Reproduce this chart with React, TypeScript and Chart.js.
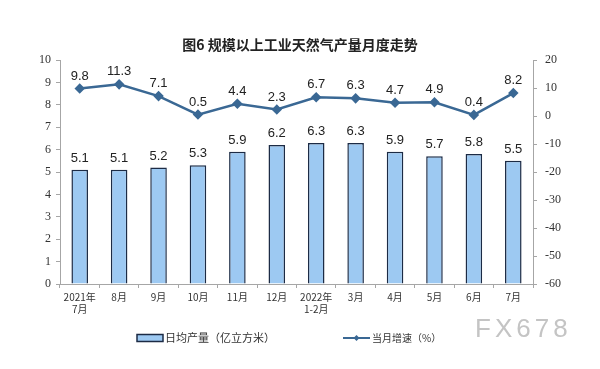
import React, { useEffect, useRef } from "react";
import { Chart, registerables } from "chart.js";

Chart.register(...registerables);

const TITLE = "图6 规模以上工业天然气产量月度走势";
const categories: (string | string[])[] = [
  ["2021年", "7月"], "8月", "9月", "10月", "11月", "12月",
  ["2022年", "1-2月"], "3月", "4月", "5月", "6月", "7月",
];
const dailyOutput = [5.1, 5.1, 5.2, 5.3, 5.9, 6.2, 6.3, 6.3, 5.9, 5.7, 5.8, 5.5];
const monthlyGrowth = [9.8, 11.3, 7.1, 0.5, 4.4, 2.3, 6.7, 6.3, 4.7, 4.9, 0.4, 8.2];
const barLegend = "日均产量（亿立方米）";
const lineLegend = "当月增速（%）";
const watermark = "FX678";

const BAR_FILL = "#9dc9f2";
const BAR_BORDER = "#1c2b45";
const LINE_COLOR = "#3a6894";
const AXIS_COLOR = "#a6a6a6";
const CJK = "'Noto Sans CJK SC', sans-serif";

const valueLabels = {
  id: "valueLabels",
  afterDatasetsDraw(chart: any) {
    const ctx = chart.ctx;
    ctx.save();
    ctx.fillStyle = "#222";
    ctx.font = "13px 'Liberation Sans', Arial, sans-serif";
    ctx.textAlign = "center";
    ctx.textBaseline = "bottom";
    const m0 = chart.getDatasetMeta(0);
    m0.data.forEach((el: any, i: number) => {
      ctx.fillText(dailyOutput[i].toFixed(1), el.x, el.y - 5);
    });
    const m1 = chart.getDatasetMeta(1);
    m1.data.forEach((el: any, i: number) => {
      ctx.fillText(monthlyGrowth[i].toFixed(1), el.x, el.y - 6);
    });
    ctx.restore();
  },
};

const legendAndMark = {
  id: "legendAndMark",
  afterDraw(chart: any) {
    const ctx = chart.ctx;
    ctx.save();
    const y = 338;
    // bar legend
    ctx.fillStyle = BAR_FILL;
    ctx.strokeStyle = BAR_BORDER;
    ctx.lineWidth = 1.5;
    ctx.fillRect(137, y - 3.5, 26, 7);
    ctx.strokeRect(137, y - 3.5, 26, 7);
    ctx.fillStyle = "#333";
    ctx.font = "11px " + CJK;
    ctx.textAlign = "left";
    ctx.textBaseline = "middle";
    ctx.fillText(barLegend, 165, y);
    // line legend
    ctx.strokeStyle = LINE_COLOR;
    ctx.lineWidth = 2;
    ctx.beginPath();
    ctx.moveTo(343, y);
    ctx.lineTo(370, y);
    ctx.stroke();
    ctx.fillStyle = LINE_COLOR;
    ctx.beginPath();
    ctx.moveTo(356.5, y - 3);
    ctx.lineTo(359.5, y);
    ctx.lineTo(356.5, y + 3);
    ctx.lineTo(353.5, y);
    ctx.closePath();
    ctx.fill();
    ctx.fillStyle = "#333";
    ctx.font = "10px " + CJK;
    ctx.fillText(lineLegend, 372, y);
    // watermark
    ctx.fillStyle = "#c4c4c4";
    ctx.font = "26px 'Liberation Sans', Arial, sans-serif";
    (ctx as any).letterSpacing = "4px";
    ctx.fillText(watermark, 475, 330);
    ctx.restore();
  },
};

export default function App() {
  const ref = useRef<HTMLCanvasElement | null>(null);
  useEffect(() => {
    if (!ref.current) return;
    const chart = new Chart(ref.current, {
      type: "bar",
      data: {
        labels: categories as any,
        datasets: [
          {
            type: "bar",
            label: barLegend,
            data: dailyOutput,
            backgroundColor: BAR_FILL,
            borderColor: BAR_BORDER,
            borderWidth: 1.5,
            barPercentage: 0.42,
            categoryPercentage: 1,
            yAxisID: "y",
            order: 2,
          },
          {
            type: "line",
            label: lineLegend,
            data: monthlyGrowth,
            borderColor: LINE_COLOR,
            backgroundColor: LINE_COLOR,
            borderWidth: 2.5,
            pointStyle: "rectRot",
            pointRadius: 3.5,
            pointBackgroundColor: LINE_COLOR,
            pointBorderColor: LINE_COLOR,
            tension: 0,
            yAxisID: "y1",
            order: 1,
          } as any,
        ],
      },
      options: {
        responsive: false,
        animation: false,
        layout: { padding: { left: 0, right: 0, top: 0, bottom: 35 } },
        plugins: {
          legend: { display: false },
          tooltip: { enabled: false },
          title: {
            display: true,
            text: TITLE,
            color: "#222",
            font: { family: CJK, size: 14, weight: "bold", lineHeight: 1.2 },
            padding: { top: 36, bottom: 7.2 },
          },
        },
        scales: {
          x: {
            offset: true,
            grid: {
              offset: true,
              drawOnChartArea: false,
              drawTicks: true,
              tickLength: 4,
              color: AXIS_COLOR,
            },
            border: { display: true, color: AXIS_COLOR },
            ticks: {
              color: "#333",
              font: { family: CJK, size: 10, lineHeight: 1.2 },
              padding: 3,
              maxRotation: 0,
              autoSkip: false,
            },
            afterFit: (s: any) => { s.height = 50; },
          },
          y: {
            position: "left",
            min: 0,
            max: 10,
            grid: { drawOnChartArea: false, drawTicks: true, tickLength: 4, color: AXIS_COLOR },
            border: { display: true, color: AXIS_COLOR },
            ticks: {
              stepSize: 1,
              color: "#333",
              font: { family: "'Liberation Serif', serif", size: 12 },
              padding: 5,
            },
            afterFit: (s: any) => { s.width = 60; },
          },
          y1: {
            position: "right",
            min: -60,
            max: 20,
            grid: { drawOnChartArea: false, drawTicks: true, tickLength: 4, color: AXIS_COLOR },
            border: { display: true, color: AXIS_COLOR },
            ticks: {
              stepSize: 10,
              color: "#333",
              font: { family: "'Liberation Serif', serif", size: 12 },
              padding: 8,
            },
            afterFit: (s: any) => { s.width = 67; },
          },
        },
      },
      plugins: [valueLabels, legendAndMark],
    });
    return () => chart.destroy();
  }, []);
  return (
    <div style={{ position: "absolute", left: 0, top: 0, width: 600, height: 369, background: "#fff" }}>
      <canvas ref={ref} width={600} height={369} style={{ display: "block" }} />
    </div>
  );
}
